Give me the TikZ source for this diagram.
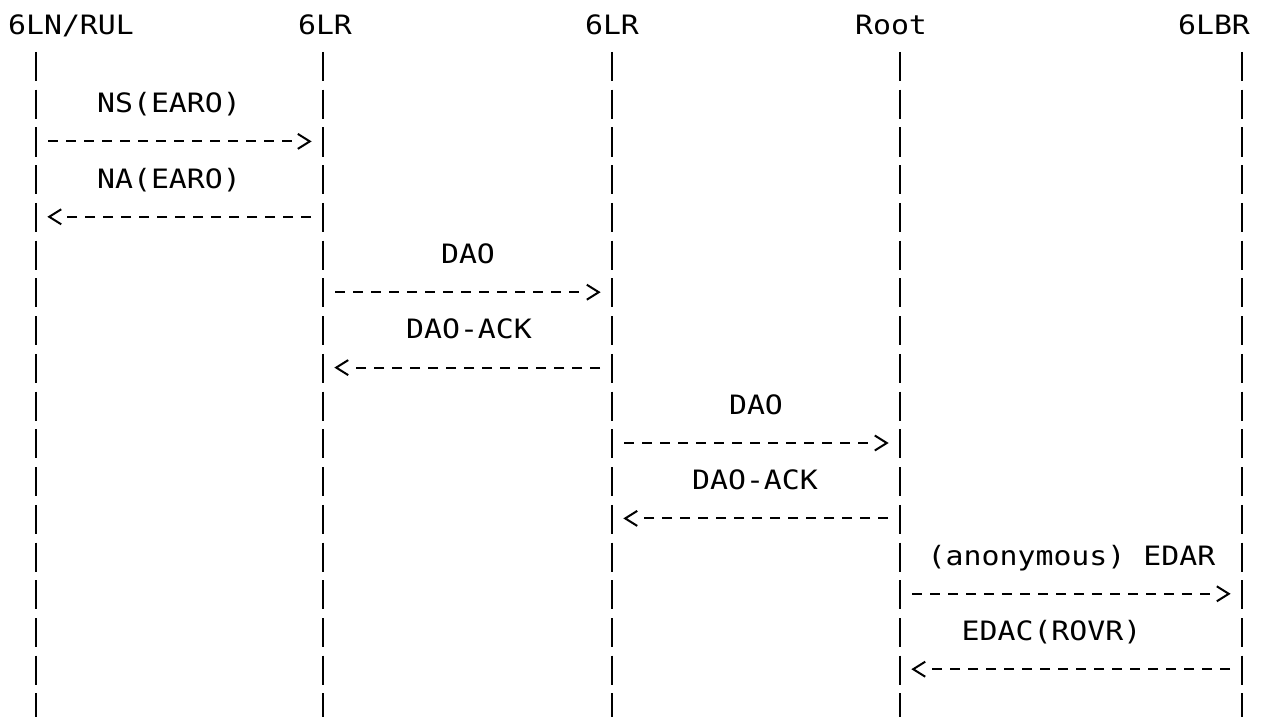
\documentclass[tikz,border=0pt]{standalone}
\usepackage{fontspec}
\newfontfamily\seqfont[FakeStretch=1.12]{DejaVu Sans Mono}
\usetikzlibrary{arrows.meta}
\tikzset{
  lifeline/.style={line width=1.5pt, dash pattern=on 21.8pt off 6.5pt},
  msg/.style={line width=1.5pt, dash pattern=on 7.5pt off 6pt,
    shorten <=9pt, shorten >=20.25pt,
    postaction={draw, dash pattern=on 0pt off 2000pt, shorten <=0pt, shorten >=8.5pt,
      -{Straight Barb[length=9pt,width=11.25pt]}}},
  lbl/.style={font=\seqfont\fontsize{20pt}{24pt}\selectfont, anchor=base, inner sep=0pt},
}
\begin{document}
\begin{tikzpicture}[x=0.75pt,y=-0.75pt]
        \useasboundingbox (0,0) rectangle (1265,717);

        \node[lbl] (rul) at (71,35) {6LN/RUL};
        \node[lbl] (lrA) at (325,35) {6LR};
        \node[lbl] (lrB) at (612,35) {6LR};
        \node[lbl] (root) at (891,35) {Root};
        \node[lbl] (lbr) at (1214,35) {6LBR};

        \coordinate (T-rul) at (36,52);
        \coordinate (T-lrA) at (323,52);
        \coordinate (T-lrB) at (612,52);
        \coordinate (T-root) at (900,52);
        \coordinate (T-lbr) at (1242,52);
        \foreach \c in {rul,lrA,lrB,root,lbr}
          \draw[lifeline] (T-\c) -- (T-\c |- 0,717);

        \node[lbl] (ns) at (169,112.7) {NS(EARO)};
        \draw[msg] (T-rul |- 0,141.4) -- (T-lrA |- 0,141.4);
        \node[lbl] (na) at (169,188.1) {NA(EARO)};
        \draw[msg] (T-lrA |- 0,216.8) -- (T-rul |- 0,216.8);

        \node[lbl] (dao1) at (468,263.5) {DAO};
        \draw[msg] (T-lrA |- 0,292.2) -- (T-lrB |- 0,292.2);
        \node[lbl] (ack1) at (469,338.9) {DAO-ACK};
        \draw[msg] (T-lrB |- 0,367.6) -- (T-lrA |- 0,367.6);

        \node[lbl] (dao2) at (756,414.3) {DAO};
        \draw[msg] (T-lrB |- 0,443.0) -- (T-root |- 0,443.0);
        \node[lbl] (ack2) at (755,489.7) {DAO-ACK};
        \draw[msg] (T-root |- 0,518.4) -- (T-lrB |- 0,518.4);

        \node[lbl] (edar) at (1071.5,565.1) {(anonymous) EDAR};
        \draw[msg] (T-root |- 0,593.8) -- (T-lbr |- 0,593.8);
        \node[lbl] (edac) at (1051.5,640.5) {EDAC(ROVR)};
        \draw[msg] (T-lbr |- 0,669.2) -- (T-root |- 0,669.2);

\end{tikzpicture}
\end{document}
